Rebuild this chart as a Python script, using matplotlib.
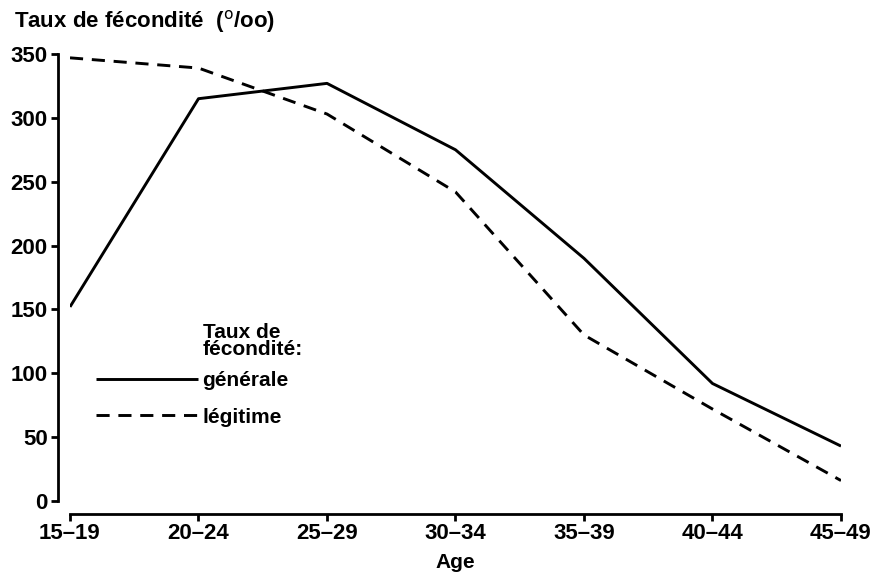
import matplotlib
matplotlib.use("Agg")
import matplotlib.pyplot as plt
from matplotlib.ticker import FixedLocator

plt.rcParams['font.family'] = ['Liberation Sans', 'DejaVu Sans']

age_groups = ["15–19", "20–24", "25–29", "30–34", "35–39", "40–44", "45–49"]
generale = [152, 315, 327, 275, 190, 92, 43]
legitime = [347, 339, 303, 242, 130, 72, 16]
y_ticks = [0, 50, 100, 150, 200, 250, 300, 350]

W, H = 878, 572
fig = plt.figure(figsize=(W / 100, H / 100), dpi=100)
ax = fig.add_axes([70 / W, 71 / H, (841 - 70) / W, (501 - 54) / H])

x = list(range(len(age_groups)))
ax.plot(x, generale, color='black', lw=2.1, solid_capstyle='butt', label='générale')
ax.plot(x, legitime, color='black', lw=2.1, dashes=(4.5, 3.0), label='légitime')

ax.set_xlim(0, len(age_groups) - 1)
ax.set_ylim(0, 350)
ax.xaxis.set_major_locator(FixedLocator(x))
ax.set_xticklabels(age_groups)
ax.set_yticks(y_ticks)
ax.set_yticklabels([str(v) for v in y_ticks])

for s in ['top', 'right']:
    ax.spines[s].set_visible(False)
ax.spines['left'].set_position(('outward', 9))
ax.spines['bottom'].set_position(('outward', 9))
ax.spines['left'].set_bounds(0, 350)
ax.spines['bottom'].set_bounds(0, len(age_groups) - 1)
for s in ['left', 'bottom']:
    ax.spines[s].set_linewidth(2.0)

ax.tick_params(axis='both', direction='out', length=5, width=2.0, colors='black')
ax.tick_params(axis='y', labelsize=16, pad=2)
ax.tick_params(axis='x', labelsize=16, pad=2)
for lab in ax.get_xticklabels() + ax.get_yticklabels():
    lab.set_fontweight('bold')

ax.set_xlabel("Age", fontsize=15, fontweight='bold', labelpad=6)

fig.text(14 / W, 1 - 22 / H, "Taux de fécondité  ($^{\\mathrm{o}}$/oo)",
         fontsize=16, fontweight='bold', ha='left', va='center')

leg = ax.legend(loc='upper left', bbox_to_anchor=(96 / W, 1 - 371 / H),
                bbox_transform=fig.transFigure, frameon=False,
                prop={'size': 15, 'weight': 'bold'},
                handlelength=4.9, handletextpad=0.2, labelspacing=0.85,
                borderpad=0, borderaxespad=0)

fig.text(203 / W, 1 - 341 / H, "Taux de\nfécondité:", fontsize=15,
         fontweight='bold', ha='left', va='center', linespacing=0.9)

fig.savefig("out.png", dpi=100)
